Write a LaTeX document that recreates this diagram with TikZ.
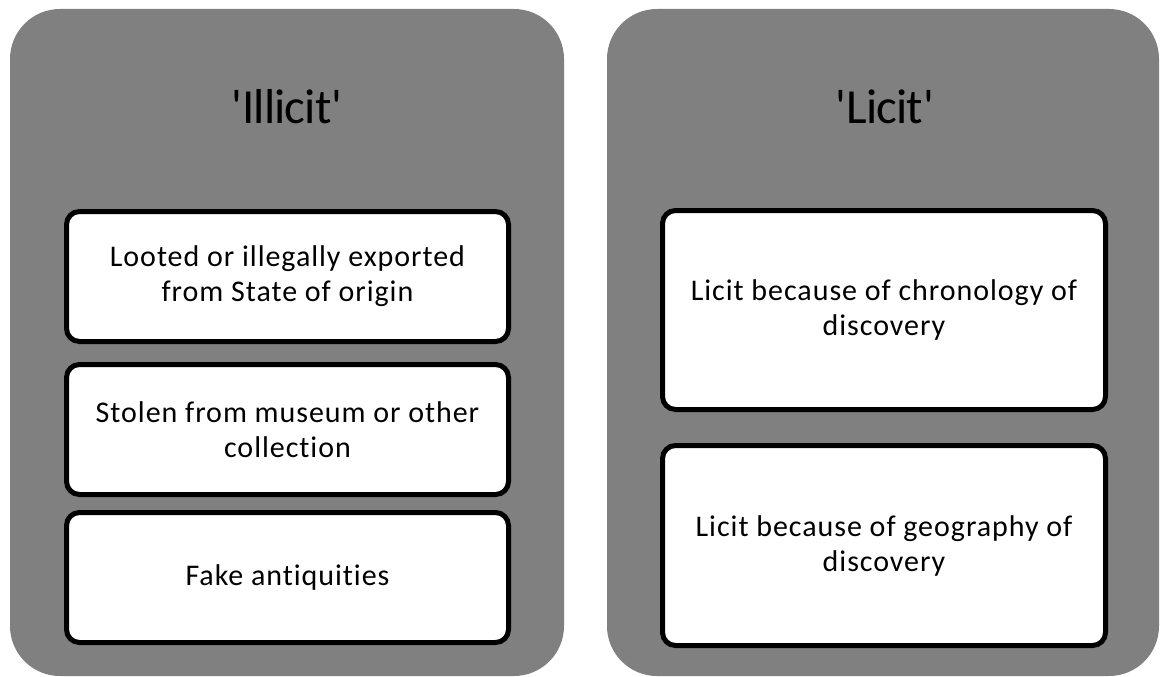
\documentclass[tikz,border=0pt]{standalone}
\usepackage{fontspec}
\setmainfont{Carlito}[Ligatures={NoCommon}]
\definecolor{panelgray}{HTML}{808080}
\tikzset{
  panel/.style={fill=panelgray, draw=none, rounded corners=50pt, inner sep=0pt},
  itembox/.style={fill=white, draw=black, line width=5pt, rounded corners=13pt, inner sep=0pt, align=center, font=\fontsize{30}{35}\selectfont\addfontfeature{LetterSpace=3.2}},
  paneltitle/.style={anchor=base, inner sep=0pt, font=\fontsize{49}{59}\selectfont\addfontfeature{LetterSpace=-1.8}}
}
\begin{document}
\begin{tikzpicture}[x=1pt, y=-1pt]
\useasboundingbox (0,0) rectangle (1165,677);
% panels
\node[panel, minimum width=554pt, minimum height=667pt] (lp) at (287,342.5) {};
\node[panel, minimum width=552pt, minimum height=667pt] (rp) at (883,342.5) {};
% titles
\node[paneltitle] (lt) at (287,123) {\textquotesingle Illicit\textquotesingle};
\node[paneltitle] (rt) at (885,123) {\textquotesingle Licit\textquotesingle};
% left boxes
\node[itembox, minimum width=442pt, minimum height=130pt] (l1) at (287.5,276.5) {Looted or illegally exported\\from State of origin};
\node[itembox, minimum width=442pt, minimum height=130pt] (l2) at (287.5,429.5) {Stolen from museum or other\\collection};
\node[itembox, minimum width=442pt, minimum height=130pt] (l3) at (287.5,577.5) {Fake antiquities};
% right boxes
\node[itembox, minimum width=443pt, minimum height=199pt] (r1) at (884,310) {Licit because of chronology of\\discovery};
\node[itembox, minimum width=443pt, minimum height=200pt] (r2) at (884,545.5) {Licit because of geography of\\discovery};
\end{tikzpicture}
\end{document}
